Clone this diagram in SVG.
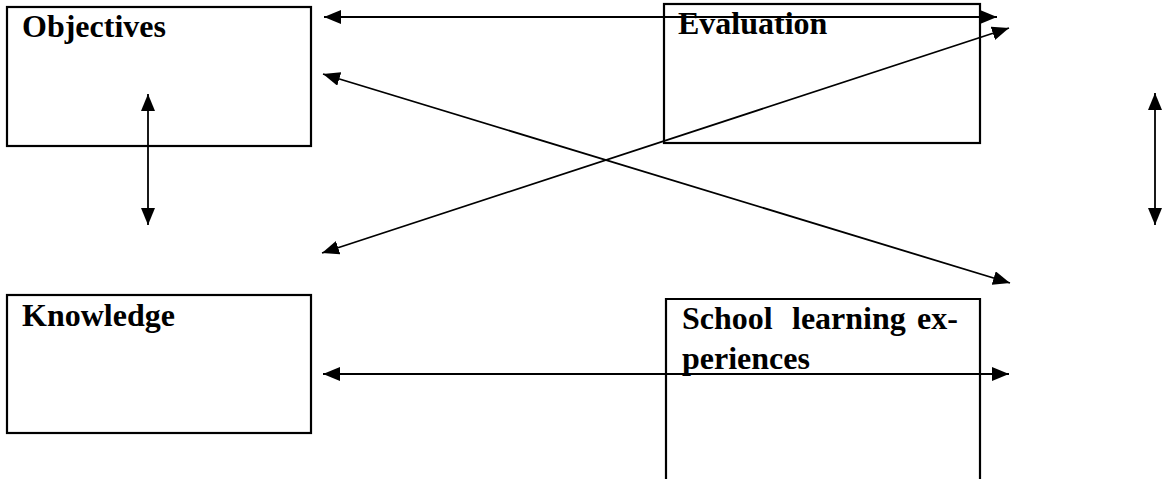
<svg xmlns="http://www.w3.org/2000/svg" width="1167" height="479" viewBox="0 0 1167 479">
<style>
.box{fill:none;stroke:#000;stroke-width:2.2}
.lbl{font-family:"Liberation Serif","Times New Roman",serif;font-weight:bold;font-size:32px;fill:#000}
.con{stroke:#000;stroke-width:1.8;fill:none;marker-start:url(#ah);marker-end:url(#ah)}
</style>
<defs>
<marker id="ah" viewBox="0 0 17 14" refX="17" refY="7" markerWidth="17" markerHeight="14" markerUnits="userSpaceOnUse" orient="auto-start-reverse">
<path d="M0,0 L17,7 L0,14 z" fill="#000"/>
</marker>
</defs>
<rect width="1167" height="479" fill="#fff"/>
<g id="objectives">
<rect class="box" x="7" y="7" width="304" height="139"/>
<text class="lbl" x="22" y="37">Objectives</text>
</g>
<g id="evaluation">
<rect class="box" x="664" y="4" width="316" height="139"/>
<text class="lbl" x="678" y="34">Evaluation</text>
</g>
<g id="knowledge">
<rect class="box" x="7" y="295" width="304" height="138"/>
<text class="lbl" x="22" y="326">Knowledge</text>
</g>
<g id="school">
<path class="box" d="M666,482 V299 H980 V482"/>
<text class="lbl" y="329"><tspan x="682">School</tspan><tspan x="792">learning</tspan><tspan x="917">ex-</tspan></text>
<text class="lbl" x="682" y="369">periences</text>
</g>
<g id="connectors">
<line class="con" x1="324" y1="17" x2="997" y2="17"/>
<line class="con" x1="323" y1="74" x2="1010" y2="283"/>
<line class="con" x1="322" y1="253" x2="1009" y2="28"/>
<line class="con" x1="148" y1="94" x2="148" y2="225"/>
<line class="con" x1="1155" y1="93" x2="1155" y2="225"/>
<line class="con" x1="323" y1="374" x2="1009" y2="374"/>
</g>
</svg>
